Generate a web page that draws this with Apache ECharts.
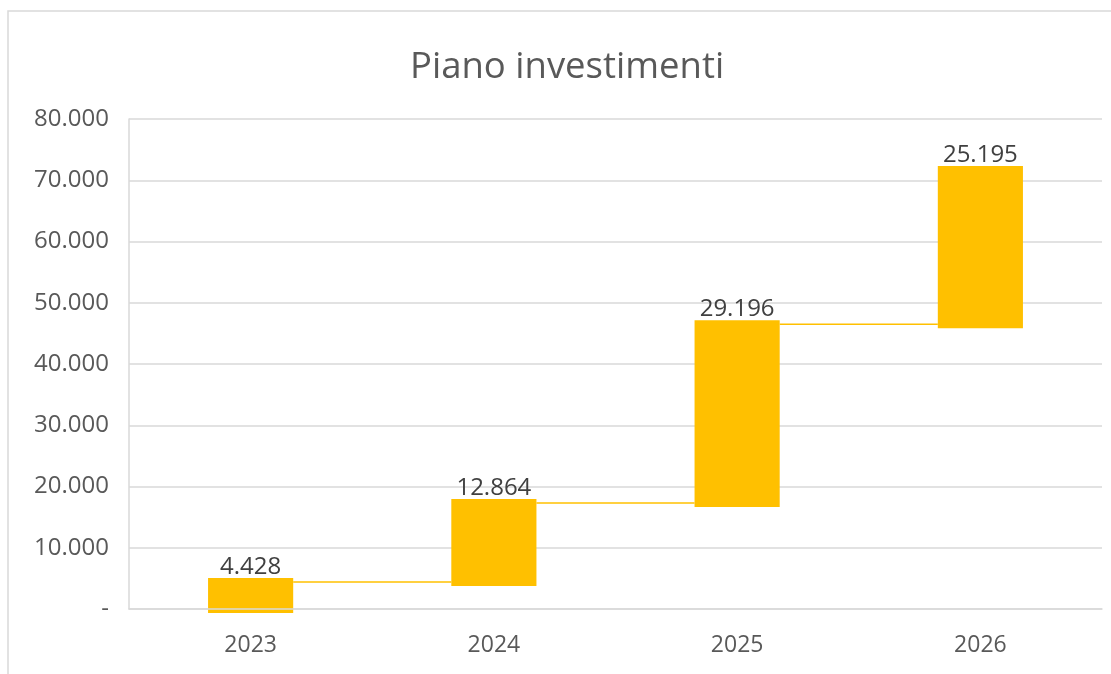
<!DOCTYPE html>
<html>
<head>
<meta charset="utf-8">
<script src="https://cdn.jsdelivr.net/npm/echarts@6/dist/echarts.min.js"></script>
<style>
  html, body { margin: 0; padding: 0; background: #fff; }
  #chart { width: 1111px; height: 674px; }
</style>
</head>
<body>
<div id="chart"></div>
<script>
// Piano investimenti: waterfall of yearly investments
const years = ['2023', '2024', '2025', '2026'];
const increments = [4428, 12864, 29196, 25195];
const yTicks = [0, 10000, 20000, 30000, 40000, 50000, 60000, 70000, 80000];

// running totals: each bar starts where the previous one ended
const bases = [];
const totals = [];
let run = 0;
increments.forEach(v => { bases.push(run); run += v; totals.push(run); });

const GOLD = '#FFC000';
const BAR_PCT = 0.35;   // bar width as share of the category band
const BAR_PAD = 4;      // px the filled box overhangs its start/end values
const FONT = 'Open Sans';

function fmtIt(n) {
  return String(Math.round(n)).replace(/\B(?=(\d{3})+(?!\d))/g, '.');
}

const chart = echarts.init(document.getElementById('chart'));
chart.setOption({
  animation: false,
  backgroundColor: '#fff',
  graphic: [{
    type: 'rect',
    shape: { x: 8, y: 11, width: 1300, height: 900 },
    style: { fill: 'none', stroke: '#d9d9d9', lineWidth: 1.5 },
    silent: true
  }],
  title: {
    text: 'Piano investimenti',
    left: 405,
    top: 44,
    textStyle: { fontFamily: FONT, fontSize: 36.5, fontWeight: 'normal', color: '#595959' }
  },
  grid: { left: 129, right: 9, top: 119, bottom: 65 },
  xAxis: {
    type: 'category',
    data: years,
    z: 5,
    axisLine: { show: true, lineStyle: { color: '#d9d9d9', width: 1.5 } },
    axisTick: { show: false },
    axisLabel: { fontFamily: FONT, fontSize: 23, color: '#595959', margin: 25 }
  },
  yAxis: {
    type: 'value',
    min: yTicks[0],
    max: yTicks[yTicks.length - 1],
    interval: yTicks[1] - yTicks[0],
    axisLine: { show: true, lineStyle: { color: '#d9d9d9', width: 1.5 } },
    axisTick: { show: false },
    splitLine: { lineStyle: { color: '#d9d9d9', width: 1.5 } },
    axisLabel: {
      fontFamily: FONT, fontSize: 24, color: '#595959', margin: 20,
      formatter: v => v === 0 ? '-' : fmtIt(v)
    }
  },
  series: [
    {
      // connector lines between consecutive bars at the running total
      name: 'connettori',
      type: 'custom',
      silent: true,
      z: 1,
      data: totals.slice(0, -1).map((t, i) => [i, t]),
      renderItem: (params, api) => {
        const p = api.coord([api.value(0), api.value(1)]);
        const band = api.size([1, 0])[0];
        const half = band * BAR_PCT / 2;
        return {
          type: 'line',
          shape: { x1: p[0] + half, y1: p[1], x2: p[0] + band - half, y2: p[1] },
          style: { stroke: GOLD, lineWidth: 1.5 }
        };
      }
    },
    {
      // floating bars from the previous total up to the new total, with value label
      name: 'Investimenti',
      type: 'custom',
      z: 2,
      data: increments.map((v, i) => [i, bases[i], totals[i], v]),
      encode: { x: 0, y: [1, 2] },
      renderItem: (params, api) => {
        const i = api.value(0);
        const p0 = api.coord([i, api.value(1)]);
        const p1 = api.coord([i, api.value(2)]);
        const band = api.size([1, 0])[0];
        const w = band * BAR_PCT;
        const top = p1[1] - BAR_PAD;
        return {
          type: 'group',
          children: [
            {
              type: 'rect',
              shape: { x: p0[0] - w / 2, y: top, width: w, height: p0[1] - p1[1] + 2 * BAR_PAD },
              style: { fill: GOLD }
            },
            {
              type: 'text',
              style: {
                text: fmtIt(api.value(3)),
                x: p0[0],
                y: top + 1,
                align: 'center',
                verticalAlign: 'bottom',
                fontFamily: FONT,
                fontSize: 24,
                fill: '#404040'
              }
            }
          ]
        };
      }
    }
  ]
});
</script>
</body>
</html>
